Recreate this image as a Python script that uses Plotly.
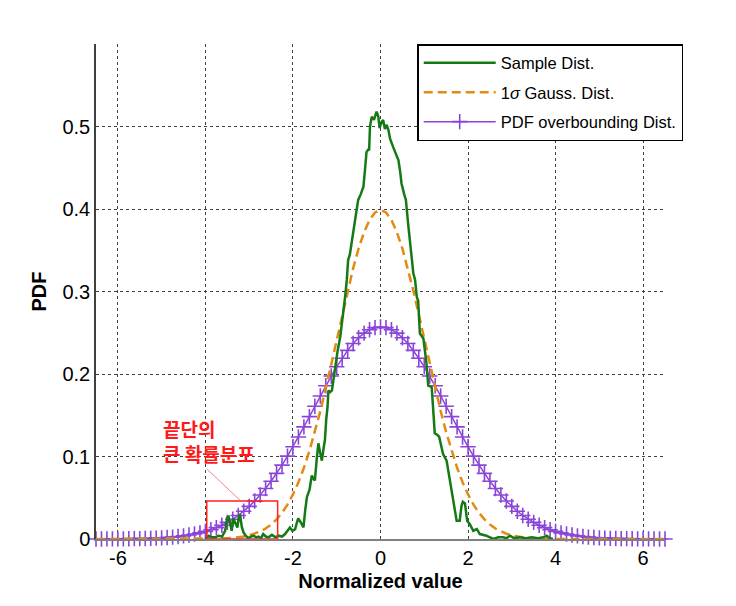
import plotly.graph_objects as go

# x grid shared by the two smooth curves
grid_x = [-6.5, -6.375, -6.25, -6.125, -6.0, -5.875, -5.75, -5.625, -5.5, -5.375, -5.25, -5.125,
          -5.0, -4.875, -4.75, -4.625, -4.5, -4.375, -4.25, -4.125, -4.0, -3.875, -3.75, -3.625,
          -3.5, -3.375, -3.25, -3.125, -3.0, -2.875, -2.75, -2.625, -2.5, -2.375, -2.25, -2.125,
          -2.0, -1.875, -1.75, -1.625, -1.5, -1.375, -1.25, -1.125, -1.0, -0.875, -0.75, -0.625,
          -0.5, -0.375, -0.25, -0.125, 0.0, 0.125, 0.25, 0.375, 0.5, 0.625, 0.75, 0.875,
          1.0, 1.125, 1.25, 1.375, 1.5, 1.625, 1.75, 1.875, 2.0, 2.125, 2.25, 2.375,
          2.5, 2.625, 2.75, 2.875, 3.0, 3.125, 3.25, 3.375, 3.5, 3.625, 3.75, 3.875,
          4.0, 4.125, 4.25, 4.375, 4.5, 4.625, 4.75, 4.875, 5.0, 5.125, 5.25, 5.375,
          5.5, 5.625, 5.75, 5.875, 6.0, 6.125, 6.25, 6.375, 6.5]

overbound_y = [0.0000, 0.0000, 0.0001, 0.0001, 0.0001, 0.0002, 0.0003, 0.0004, 0.0005, 0.0006, 0.0008, 0.0011,
               0.0014, 0.0018, 0.0023, 0.0030, 0.0038, 0.0048, 0.0060, 0.0074, 0.0092, 0.0113, 0.0138, 0.0167,
               0.0201, 0.0240, 0.0285, 0.0337, 0.0395, 0.0460, 0.0533, 0.0613, 0.0700, 0.0795, 0.0896, 0.1004,
               0.1118, 0.1236, 0.1359, 0.1483, 0.1609, 0.1734, 0.1857, 0.1975, 0.2087, 0.2191, 0.2286, 0.2369,
               0.2440, 0.2496, 0.2537, 0.2562, 0.2570, 0.2562, 0.2537, 0.2496, 0.2440, 0.2369, 0.2286, 0.2191,
               0.2087, 0.1975, 0.1857, 0.1734, 0.1609, 0.1483, 0.1359, 0.1236, 0.1118, 0.1004, 0.0896, 0.0795,
               0.0700, 0.0613, 0.0533, 0.0460, 0.0395, 0.0337, 0.0285, 0.0240, 0.0201, 0.0167, 0.0138, 0.0113,
               0.0092, 0.0074, 0.0060, 0.0048, 0.0038, 0.0030, 0.0023, 0.0018, 0.0014, 0.0011, 0.0008, 0.0006,
               0.0005, 0.0004, 0.0003, 0.0002, 0.0001, 0.0001, 0.0001, 0.0000, 0.0000]

gauss_y = [0, 0, 0, 0, 0, 0, 0, 0, 0, 0, 0, 0,
           0, 0, 0, 0, 0, 0, 0, 0, 0.0001, 0.0002, 0.0004, 0.0006,
           0.0009, 0.0013, 0.0020, 0.0030, 0.0044, 0.0064, 0.0091, 0.0127, 0.0175, 0.0238, 0.0317, 0.0417,
           0.0540, 0.0688, 0.0863, 0.1065, 0.1295, 0.1550, 0.1826, 0.2119, 0.2420, 0.2720, 0.3011, 0.3282,
           0.3521, 0.3718, 0.3867, 0.3958, 0.3989, 0.3958, 0.3867, 0.3718, 0.3521, 0.3282, 0.3011, 0.2720,
           0.2420, 0.2119, 0.1826, 0.1550, 0.1295, 0.1065, 0.0863, 0.0688, 0.0540, 0.0417, 0.0317, 0.0238,
           0.0175, 0.0127, 0.0091, 0.0064, 0.0044, 0.0030, 0.0020, 0.0013, 0.0009, 0.0006, 0.0004, 0.0002,
           0.0001, 0, 0, 0, 0, 0, 0, 0, 0, 0, 0, 0,
           0, 0, 0, 0, 0, 0, 0, 0, 0]

# sample histogram
sample_x = [-4.00, -3.93, -3.85, -3.78, -3.70, -3.62, -3.55, -3.50, -3.47, -3.44, -3.40, -3.36,
            -3.32, -3.27, -3.24, -3.21, -3.17, -3.13, -3.08, -3.02, -2.96, -2.90, -2.84, -2.79,
            -2.73, -2.68, -2.62, -2.56, -2.48, -2.40, -2.33, -2.25, -2.18, -2.12, -2.07, -2.01,
            -1.95, -1.91, -1.88, -1.82, -1.76, -1.72, -1.68, -1.62, -1.57, -1.53, -1.50, -1.46,
            -1.42, -1.38, -1.34, -1.30, -1.27, -1.24, -1.21, -1.19, -1.15, -1.11, -1.07, -1.04,
            -0.98, -0.92, -0.85, -0.81, -0.77, -0.74, -0.70, -0.66, -0.62, -0.58, -0.54, -0.51,
            -0.45, -0.39, -0.35, -0.32, -0.28, -0.26, -0.24, -0.20, -0.15, -0.09, -0.05, -0.02,
            0.02, 0.06, 0.10, 0.14, 0.18, 0.22, 0.29, 0.33, 0.37, 0.41, 0.45, 0.48,
            0.54, 0.58, 0.63, 0.67, 0.71, 0.75, 0.79, 0.83, 0.86, 0.90, 0.94, 0.98,
            1.05, 1.09, 1.13, 1.17, 1.21, 1.24, 1.30, 1.34, 1.39, 1.43, 1.51, 1.55,
            1.59, 1.66, 1.70, 1.74, 1.81, 1.85, 1.88, 1.93, 1.98, 2.04, 2.12, 2.20,
            2.27, 2.35, 2.42, 2.50, 2.58, 2.69, 2.80, 2.88, 2.96, 3.05, 3.18, 3.33,
            3.45, 3.60, 3.72, 3.80, 3.87, 3.94]
sample_y = [0.000, 0.004, 0.002, 0.002, 0.004, 0.003, 0.010, 0.026, 0.027, 0.018, 0.010, 0.025,
            0.020, 0.014, 0.025, 0.030, 0.015, 0.008, 0.004, 0.001, 0.003, 0.004, 0.002, 0.003,
            0.001, 0.006, 0.003, 0.002, 0.005, 0.002, 0.004, 0.003, 0.006, 0.010, 0.014, 0.010,
            0.012, 0.020, 0.025, 0.020, 0.014, 0.035, 0.051, 0.060, 0.077, 0.073, 0.071, 0.095,
            0.116, 0.105, 0.095, 0.110, 0.120, 0.145, 0.160, 0.180, 0.178, 0.180, 0.195, 0.208,
            0.228, 0.245, 0.273, 0.293, 0.314, 0.338, 0.345, 0.358, 0.375, 0.387, 0.398, 0.411,
            0.418, 0.427, 0.450, 0.469, 0.472, 0.471, 0.500, 0.512, 0.508, 0.518, 0.512, 0.498,
            0.505, 0.508, 0.497, 0.502, 0.496, 0.485, 0.475, 0.470, 0.465, 0.459, 0.445, 0.431,
            0.418, 0.411, 0.383, 0.362, 0.345, 0.322, 0.314, 0.293, 0.289, 0.249, 0.246, 0.243,
            0.213, 0.186, 0.185, 0.184, 0.152, 0.128, 0.126, 0.124, 0.112, 0.103, 0.095, 0.082,
            0.071, 0.047, 0.032, 0.022, 0.022, 0.040, 0.045, 0.043, 0.022, 0.018, 0.010, 0.012,
            0.006, 0.005, 0.004, 0.002, 0.000, 0.002, 0.002, 0.001, 0.004, 0.001, 0.002, 0.001,
            0.002, 0.001, 0.002, 0.004, 0.001, 0.000]

x_ticks = [-6, -4, -2, 0, 2, 4, 6]
y_ticks = [0, 0.1, 0.2, 0.3, 0.4, 0.5]

FONT = "Arial, Liberation Sans, sans-serif"
KFONT = "Noto Sans CJK KR, sans-serif"

fig = go.Figure()
fig.add_trace(go.Scatter(
    x=grid_x, y=overbound_y, mode="lines+markers", name="PDF overbounding Dist.",
    line=dict(color="#8a45d8", width=1.5),
    marker=dict(symbol="cross-thin-open", size=11, line=dict(color="#a060f2", width=1.6)),
    legendgroup="c", legendrank=3, cliponaxis=False))
fig.add_trace(go.Scatter(
    x=grid_x, y=gauss_y, mode="lines", name="1<i>σ</i> Gauss. Dist.",
    line=dict(color="#e38a12", width=2.5, dash="9px,5px"),
    legendgroup="b", legendrank=2, cliponaxis=False))
fig.add_trace(go.Scatter(
    x=sample_x, y=sample_y, mode="lines", name="Sample Dist.",
    line=dict(color="#157a15", width=2.5),
    legendgroup="a", legendrank=1, cliponaxis=False))

# red box around the tail and its label
fig.add_shape(type="rect", x0=-3.97, x1=-2.35, y0=0, y1=0.046,
              line=dict(color="#ff2020", width=1.5))
fig.add_shape(type="line", x0=-3.97, y0=0.085, x1=-3.21, y1=0.047,
              line=dict(color="#e88a8a", width=1))
fig.add_annotation(x=-5.0, y=0.134, xanchor="left", yanchor="middle", align="left",
                   text="<b>끝단의</b>", showarrow=False, borderpad=0,
                   font=dict(family=KFONT, size=19, color="#ff1a1a"))
fig.add_annotation(x=-5.0, y=0.1035, xanchor="left", yanchor="middle", align="left",
                   text="<b>큰 확률분포</b>", showarrow=False, borderpad=0,
                   font=dict(family=KFONT, size=19, color="#ff1a1a"))

fig.update_xaxes(range=[-6.5, 6.5], tickvals=x_ticks, ticktext=[str(v) for v in x_ticks],
                 showline=True, linecolor="#808080", linewidth=1.5, automargin=False,
                 showgrid=True, gridcolor="#404040", griddash="dot", gridwidth=1,
                 zeroline=False, ticks="", tickfont=dict(family=FONT, size=20, color="black"),
                 title=dict(text="<b>Normalized value</b>", standoff=6,
                            font=dict(family=FONT, size=20, color="black")))
fig.update_yaxes(range=[0, 0.6], tickvals=y_ticks, ticktext=["0", "0.1", "0.2", "0.3", "0.4", "0.5"],
                 showline=True, linecolor="#404040", linewidth=1.5, automargin=False,
                 showgrid=True, gridcolor="#404040", griddash="dot", gridwidth=1,
                 zeroline=False, ticks="", tickfont=dict(family=FONT, size=20, color="black"),
                 title=dict(text="<b>PDF</b>", standoff=10,
                            font=dict(family=FONT, size=20, color="black")))

# page body has an 8px margin, so the figure is drawn 8px in from the window edge
fig.update_layout(
    width=728, height=598,
    margin=dict(l=88, r=71, t=36, b=67),
    paper_bgcolor="white", plot_bgcolor="white",
    font=dict(family=FONT, size=16.5, color="black"),
    legend=dict(x=1.032, xanchor="right", y=1.0, yanchor="top",
                bgcolor="white", bordercolor="black", borderwidth=1.5,
                traceorder="grouped", tracegroupgap=5, itemwidth=72,
                font=dict(family=FONT, size=16.5, color="black")),
)

fig.write_html("out.html")
